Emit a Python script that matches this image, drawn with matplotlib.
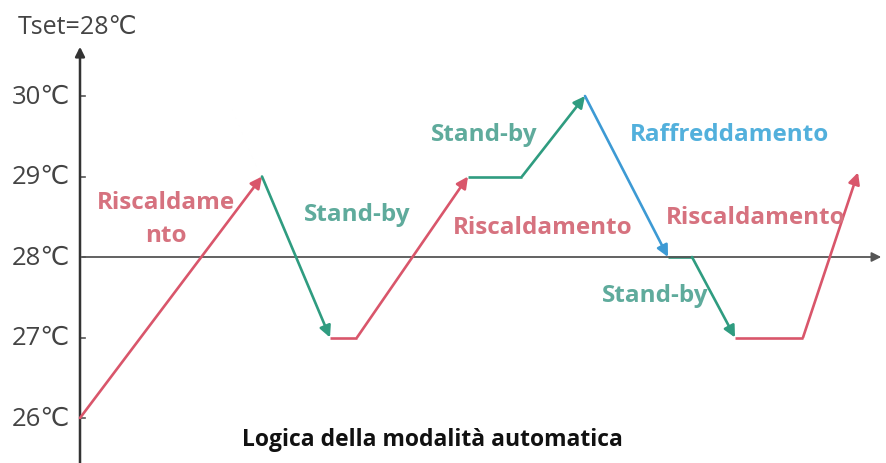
import matplotlib.pyplot as plt

# temperature levels on the y axis
temps = [26, 27, 28, 29, 30]
tick_labels = ['26℃', '27℃', '28℃', '29℃', '30℃']

# each phase: time points, temperatures, colour
red = '#d9566b'
green = '#2f9c80'
blue = '#3d9ad4'
segments = [
    ([80, 262], [26, 29], red),
    ([262, 330], [29, 27], green),
    ([330, 357, 468], [27, 27, 29], red),
    ([468, 522, 585], [29, 29, 30], green),
    ([585, 668], [30, 28], blue),
    ([668, 692, 735], [28, 28, 27], green),
    ([735, 803, 858], [27, 27, 29.05], red),
]

# phase labels: text, x, temperature, colour
labels = [
    ('Riscaldame\nnto', 166, 28.48, '#d6727f'),
    ('Stand-by', 357, 28.53, '#5fab9c'),
    ('Stand-by', 484, 29.53, '#5fab9c'),
    ('Riscaldamento', 543, 28.37, '#d6727f'),
    ('Raffreddamento', 730, 29.53, '#52b0dc'),
    ('Riscaldamento', 756, 28.5, '#d6727f'),
    ('Stand-by', 655, 27.53, '#5fab9c'),
]

fonts = ['Open Sans', 'DejaVu Sans']

fig = plt.figure(figsize=(8.86, 4.64), dpi=100)
ax = fig.add_axes([0, 0, 1, 1])
ax.set_xlim(0, 886)
ax.set_ylim(28 - 206 / 80.5, 28 + 258 / 80.5)
ax.axis('off')

# axes with arrows
ax.annotate('', xy=(80, 28 + 213 / 80.5), xytext=(80, 25.3),
            arrowprops=dict(arrowstyle='-|>', color='#333333', lw=1.8, mutation_scale=14))
ax.annotate('', xy=(884, 28), xytext=(80, 28),
            arrowprops=dict(arrowstyle='-|>', color='#555555', lw=1.3, mutation_scale=14))

# y ticks
for t, lab in zip(temps, tick_labels):
    ax.plot([80, 85], [t, t], color='#555555', lw=1.2)
    ax.text(70, t, lab, ha='right', va='center', fontsize=18.5, color='#444444', family=fonts)

ax.text(18, 28 + 231 / 80.5, 'Tset=28℃', ha='left', va='center', fontsize=18,
        color='#444444', family=fonts)

# temperature curve
for xs, ts, c in segments:
    ax.plot(xs[:-1], ts[:-1], color=c, lw=1.9, solid_capstyle='butt')
    ax.annotate('', xy=(xs[-1], ts[-1]), xytext=(xs[-2], ts[-2]),
                arrowprops=dict(arrowstyle='-|>', color=c, lw=1.9, mutation_scale=17,
                                shrinkA=0, shrinkB=0))

for txt, x, t, c in labels:
    ax.text(x, t, txt, ha='center', va='center', fontsize=17.5, fontweight='bold',
            color=c, family=fonts, linespacing=1.5)

ax.text(432, 28 - 182 / 80.5, 'Logica della modalità automatica', ha='center', va='center',
        fontsize=16.5, fontweight='bold', color='#111111', family=fonts)

plt.savefig('out.png', dpi=100)
